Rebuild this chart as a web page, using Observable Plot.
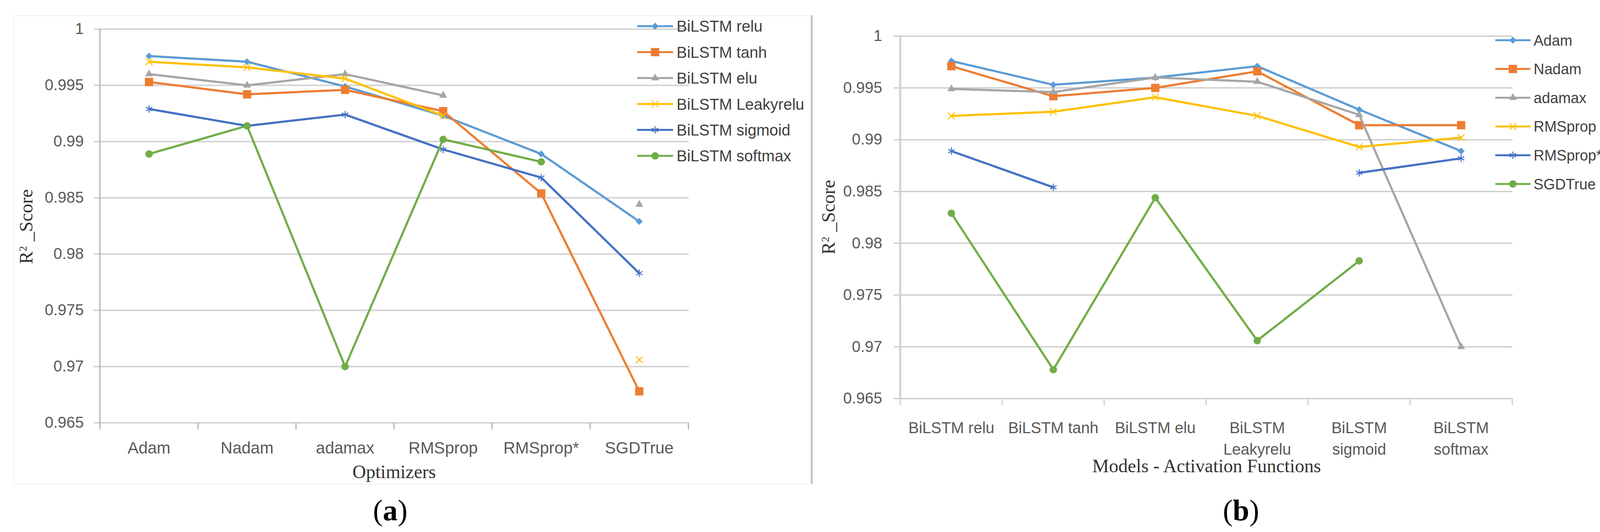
<!DOCTYPE html>
<html><head><meta charset="utf-8">
<script src="https://cdn.jsdelivr.net/npm/d3@7"></script>
<script src="https://cdn.jsdelivr.net/npm/@observablehq/plot@0.6"></script>
<style>
html,body{margin:0;padding:0;background:#fff;overflow:hidden;}
#page{position:relative;width:4155px;height:1362px;overflow:hidden;background:#fff;}
#page svg{position:absolute;max-width:none;}
</style></head><body><div id="page"></div>
<script>
// ---- data ----
const optimizers = ["Adam", "Nadam", "adamax", "RMSprop", "RMSprop*", "SGDTrue"];
const activations = ["BiLSTM relu", "BiLSTM tanh", "BiLSTM elu", "BiLSTM Leakyrelu", "BiLSTM sigmoid", "BiLSTM softmax"];
const optimizerTickLabels = ["Adam", "Nadam", "adamax", "RMSprop", "RMSprop*", "SGDTrue"];
const activationTickLabels = ["BiLSTM relu", "BiLSTM tanh", "BiLSTM elu", "BiLSTM\nLeakyrelu", "BiLSTM\nsigmoid", "BiLSTM\nsoftmax"];
// R² score per activation, in optimizer order (null = no value)
const reluScores      = [0.9976, 0.9971, 0.9949, 0.9923, 0.9889, 0.9829];
const tanhScores      = [0.9953, 0.9942, 0.9946, 0.9927, 0.9854, 0.9678];
const eluScores       = [0.9960, 0.9950, 0.9960, 0.9941, null,   0.9844];
const leakyreluScores = [0.9971, 0.9966, 0.9956, 0.9923, null,   0.9706];
const sigmoidScores   = [0.9929, 0.9914, 0.9924, 0.9893, 0.9868, 0.9783];
const softmaxScores   = [0.9889, 0.9914, 0.9700, 0.9902, 0.9882, null];
const yTicks = [0.965, 0.97, 0.975, 0.98, 0.985, 0.99, 0.995, 1];

const scoresByActivation = [reluScores, tanhScores, eluScores, leakyreluScores, sigmoidScores, softmaxScores];
const seriesColors  = ["#5B9BD5", "#ED7D31", "#A5A5A5", "#FFC000", "#4472C4", "#70AD47"];
const seriesSymbols = ["diamond2", "square", "triangle", "times", "asterisk", "circle"];
const seriesRadius  = [8, 12, 7.5, 8, 9, 9.5];
const filledSymbol  = [true, true, true, false, false, true];

const tableA = activations.flatMap((act, i) => optimizers.map((opt, j) => ({cat: opt, series: act, value: scoresByActivation[i][j]})));
const tableB = optimizers.flatMap((opt, j) => activations.map((act, i) => ({cat: act, series: opt, value: scoresByActivation[i][j]})));

const page = document.getElementById("page");
const tickMarkSymbol = {draw(ctx) { ctx.moveTo(0, 0); ctx.lineTo(0, 17); }};

function makeChart(o) {
  const {cats, seriesNames, rows, left, top, width, height, m, tickLabels} = o;
  const step = (width - m.left - m.right) / cats.length;
  const marks = [
    Plot.ruleY(yTicks, {stroke: o.gridColor, strokeWidth: o.gridWidth, insetLeft: -o.tickLen}),
    Plot.ruleX([cats[0]], {x: d => d, dx: -step / 2, y1: yTicks[0], y2: yTicks[yTicks.length - 1], stroke: o.axisColor, strokeWidth: o.axisWidth}),
    Plot.dot(cats, {x: d => d, y: () => yTicks[0], dx: -step / 2, symbol: tickMarkSymbol, r: 3, stroke: o.axisColor, strokeWidth: 3, fill: "none"}),
    Plot.dot([cats[cats.length - 1]], {x: d => d, y: () => yTicks[0], dx: step / 2, symbol: tickMarkSymbol, r: 3, stroke: o.axisColor, strokeWidth: 3, fill: "none"}),
    Plot.axisY(yTicks, {tickSize: 0, tickPadding: o.yPad, tickFormat: d => String(d), fontSize: 40, fill: "#595959", label: null}),
    Plot.axisX({tickSize: 0, tickPadding: o.xPad, fontSize: o.xFont, fill: "#595959", label: null, lineHeight: o.lineHeight,
      tickFormat: d => tickLabels[cats.indexOf(d)]})
  ];
  seriesNames.forEach((s, i) => {
    const data = rows.filter(r => r.series === s);
    marks.push(Plot.line(data, {x: "cat", y: "value", stroke: seriesColors[i], strokeWidth: 5.5}));
    marks.push(Plot.dot(data, {x: "cat", y: "value", symbol: seriesSymbols[i], r: seriesRadius[i],
      fill: filledSymbol[i] ? seriesColors[i] : "none", stroke: filledSymbol[i] ? "none" : seriesColors[i], strokeWidth: 2.5}));
  });
  const svg = Plot.plot({
    width, height, marginLeft: m.left, marginRight: m.right, marginTop: m.top, marginBottom: m.bottom,
    x: {type: "point", domain: cats, padding: 0.5},
    y: {domain: [yTicks[0], yTicks[yTicks.length - 1]]},
    style: {background: "transparent", fontFamily: "'Liberation Sans', Arial, sans-serif", fontSize: "40px", color: "#595959", overflow: "visible"},
    marks
  });
  svg.style.left = left + "px";
  svg.style.top = top + "px";
  page.appendChild(svg);
}

makeChart({cats: optimizers, seriesNames: activations, rows: tableA, tickLabels: optimizerTickLabels,
  left: 0, top: 0, width: 1800, height: 1180, m: {left: 254, right: 37, top: 74, bottom: 98},
  gridColor: "#d4d4d4", gridWidth: 4, axisColor: "#b0b0b0", axisWidth: 3, tickLen: 14,
  yPad: 40, xPad: 49, xFont: 42, lineHeight: 1});

makeChart({cats: activations, seriesNames: optimizers, rows: tableB, tickLabels: activationTickLabels,
  left: 2080, top: 0, width: 1840, height: 1260, m: {left: 222, right: 48, top: 92, bottom: 240},
  gridColor: "#c8c8c8", gridWidth: 3, axisColor: "#d0d0d0", axisWidth: 5, tickLen: 14,
  yPad: 44, xPad: 50, xFont: 40, lineHeight: 1.37});

// ---- overlay: legends, titles, captions ----
const ov = d3.select(page).append("svg").attr("width", 4155).attr("height", 1362).style("left", "0px").style("top", "0px");
ov.append("rect").attr("x", 35).attr("y", 40).attr("width", 2043).attr("height", 1200).attr("fill", "none").attr("stroke", "#f0f0f0").attr("stroke-width", 2);
ov.append("line").attr("x1", 2078).attr("x2", 2078).attr("y1", 39).attr("y2", 1239).attr("stroke", "#c4c4c4").attr("stroke-width", 5);

const d3Symbols = {diamond2: d3.symbolDiamond2, square: d3.symbolSquare, triangle: d3.symbolTriangle, times: d3.symbolTimes, asterisk: d3.symbolAsterisk, circle: d3.symbolCircle};
function legend(names, x0, x1, tx, y0, dy, fs, maxRight) {
  names.forEach((n, i) => {
    const y = y0 + i * dy;
    const g = ov.append("g");
    g.append("line").attr("x1", x0).attr("x2", x1).attr("y1", y).attr("y2", y).attr("stroke", seriesColors[i]).attr("stroke-width", 5);
    const r = seriesRadius[i];
    g.append("path").attr("transform", `translate(${(x0 + x1) / 2},${y})`)
      .attr("d", d3.symbol(d3Symbols[seriesSymbols[i]], Math.PI * r * r)())
      .attr("fill", filledSymbol[i] ? seriesColors[i] : "none")
      .attr("stroke", filledSymbol[i] ? "none" : seriesColors[i]).attr("stroke-width", 2.5);
    const t = g.append("text").attr("x", tx).attr("y", y).attr("dy", "0.36em").attr("font-family", "'Liberation Sans', Arial, sans-serif")
      .attr("font-size", fs).attr("fill", "#404040").text(n);
    const len = t.node().getComputedTextLength();
    if (tx + len > maxRight) t.attr("textLength", maxRight - tx).attr("lengthAdjust", "spacingAndGlyphs");
  });
}
legend(activations, 1631, 1723, 1732, 67, 66.4, 40, 2060);
legend(optimizers, 3828, 3918, 3926, 103, 73.6, 38, 4110);

const serif = "'Liberation Serif', 'Times New Roman', serif";
function yTitle(x, y) {
  const t = ov.append("text").attr("transform", `translate(${x},${y}) rotate(-90)`).attr("text-anchor", "middle")
    .attr("font-family", serif).attr("font-size", 48).attr("fill", "#333");
  t.append("tspan").text("R");
  t.append("tspan").attr("baseline-shift", "super").attr("font-size", 28).text("2");
  t.append("tspan").text(" _Score");
}
yTitle(83, 580);
yTitle(2137, 556);

ov.append("text").attr("x", 1009).attr("y", 1224).attr("text-anchor", "middle").attr("font-family", serif).attr("font-size", 48).attr("fill", "#333").text("Optimizers");
ov.append("text").attr("x", 3089).attr("y", 1209).attr("text-anchor", "middle").attr("font-family", serif).attr("font-size", 48).attr("fill", "#333").text("Models - Activation Functions");

function caption(x, letter) {
  const t = ov.append("text").attr("x", x).attr("y", 1332).attr("text-anchor", "middle").attr("font-family", serif).attr("font-size", 76).attr("fill", "#000");
  t.append("tspan").text("(");
  t.append("tspan").attr("font-weight", "bold").text(letter);
  t.append("tspan").text(")");
}
caption(999, "a");
caption(3177, "b");
</script></body></html>
